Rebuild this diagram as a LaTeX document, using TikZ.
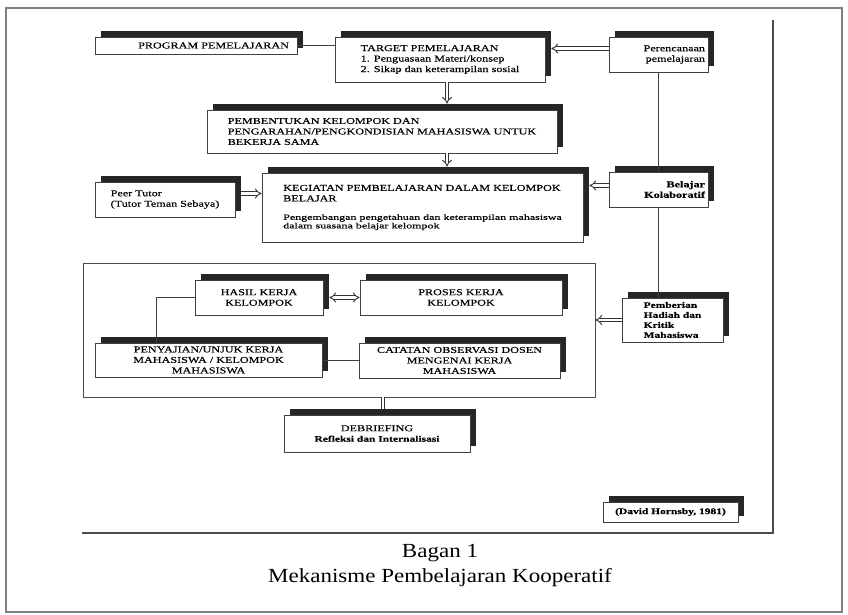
\documentclass[tikz,border=0pt]{standalone}
\usepackage{fontspec}
\setmainfont{Liberation Serif}
\newfontfamily\diafont[FakeStretch=1.35, FakeBold=0.4]{Liberation Serif}
\newfontfamily\diawide[FakeStretch=1.5, FakeBold=0.4]{Liberation Serif}
\newfontfamily\titfont[FakeStretch=1.15]{Liberation Serif}
\newcommand{\miudo}{\diawide\fontsize{8}{8}\selectfont}
\usetikzlibrary{shadows,arrows.meta,calc}

\tikzset{
  caixa/.style={draw=black!75, line width=0.8pt, fill=white, inner sep=2pt,
    font=\diafont\fontsize{9}{10.5}\selectfont,
    drop shadow={shadow xshift=6pt, shadow yshift=6pt, fill=black!85, opacity=1}},
  negrito/.style={font=\diafont\bfseries\fontsize{9}{10.5}\selectfont},
  seta/.style={draw=black!80, line width=0.9pt, double=white, double distance=2.6pt, -{Implies}},
  liga/.style={draw=black!75, line width=0.8pt},
  moldura/.style={draw=black!70, line width=0.9pt},
}

\begin{document}
\begin{tikzpicture}[x=1pt, y=-1pt]
	\useasboundingbox (0,0) rectangle (848,615);
	% Moldura da pagina
	\draw[gray, line width=2pt] (6,8) rectangle (842,612);
	\draw[black!70, line width=1.2pt] (773,20) -- (773,533) -- (82,533);
	
	% Grupo de trabalho
	\node (kelompok) [moldura, minimum width=512pt, minimum height=134pt] at (339,330) {};
	
	% Caixas
	\node (program) [caixa, minimum width=202pt, minimum height=17pt, text width=186pt, inner xsep=8pt, align=right] at (196,45.5) {PROGRAM PEMELAJARAN};
	\node (target) [caixa, minimum width=210pt, minimum height=45pt, align=left] at (440,59.5)
		{TARGET PEMELAJARAN\\1. Penguasaan Materi/konsep\\2. Sikap dan keterampilan sosial};
	\node (rencana) [caixa, minimum width=99pt, minimum height=35pt, text width=93pt, inner xsep=3pt, align=right] at (658.5,54.5) {Perencanaan\\pemelajaran};
	\node (bentuk) [caixa, minimum width=350pt, minimum height=43pt, align=left] at (382,131.5)
		{PEMBENTUKAN KELOMPOK DAN\\PENGARAHAN/PENGKONDISIAN MAHASISWA UNTUK\\BEKERJA SAMA};
	\node (kolab) [caixa, negrito, minimum width=99pt, minimum height=35pt, text width=93pt, inner xsep=3pt, align=right] at (658.5,189.5) {Belajar\\Kolaboratif};
	\node (tutor) [caixa, minimum width=140pt, minimum height=35pt, align=left] at (165,199.5) {Peer Tutor\\(Tutor Teman Sebaya)};
	\node (kegiatan) [caixa, minimum width=321pt, minimum height=69pt, align=left] at (422.5,207.5)
		{KEGIATAN PEMBELAJARAN DALAM KELOMPOK\\BELAJAR\\[8pt]{\miudo Pengembangan pengetahuan dan keterampilan mahasiswa}\\[-2pt]{\miudo dalam suasana belajar kelompok}};
	\node (hasil) [caixa, minimum width=128pt, minimum height=35pt, align=center] at (259,297.5) {HASIL KERJA\\KELOMPOK};
	\node (proses) [caixa, minimum width=202pt, minimum height=35pt, align=center] at (461,297.5) {PROSES KERJA\\KELOMPOK};
	\node (sajian) [caixa, minimum width=227pt, minimum height=34pt, align=center] at (208.5,360)
		{PENYAJIAN/UNJUK KERJA\\MAHASISWA / KELOMPOK\\MAHASISWA};
	\node (catatan) [caixa, minimum width=201pt, minimum height=35pt, align=center] at (459.5,360.5)
		{CATATAN OBSERVASI DOSEN\\MENGENAI KERJA\\MAHASISWA};
	\node (hadiah) [caixa, font=\diafont\bfseries\fontsize{8.5}{10}\selectfont, minimum width=101pt, minimum height=44pt, align=left] at (672.5,320)
		{Pemberian\\Hadiah dan\\Kritik\\Mahasiswa};
	\node (debrief) [caixa, minimum width=186pt, minimum height=37pt, align=center] at (377,433.5)
		{DEBRIEFING\\{\bfseries\fontsize{8.5}{10}\selectfont Refleksi dan Internalisasi}};
	\node (sumber) [caixa, font=\diafont\bfseries\fontsize{8.5}{10}\selectfont, minimum width=135pt, minimum height=20pt] at (670.5,512) {(David Hornsby, 1981)};
	
	% Ligacoes
	\draw[liga] (program.east) -- (program.east -| target.west);
	\draw[seta] ($(rencana.west)+(0,-6)$) -- ($(rencana.west -| target.east)+(6,-6)$);
	\draw[seta] ($(target.south)+(7,0)$) -- ($(target.south |- bentuk.north)+(7,-6)$);
	\draw[seta] ($(bentuk.south -| target.south)+(7,0)$) -- ($(kegiatan.north -| target.south)+(7,-6)$);
	\draw[liga] (rencana.south) -- (kolab.north);
	\draw[liga] (kolab.south) -- (kolab.south |- hadiah.north);
	\draw[seta] ($(kolab.west)+(0,-4)$) -- ($(kolab.west -| kegiatan.east)+(6,-4)$);
	\draw[seta] ($(tutor.east)+(6,-6)$) -- ($(tutor.east -| kegiatan.west)+(0,-6)$);
	\draw[seta, {Implies}-{Implies}] ($(hasil.east)+(6,0)$) -- (hasil.east -| proses.west);
	\draw[liga] (hasil.west) -| ($(sajian.north west)+(62,0)$);
	\draw[liga] (sajian.east) -- (sajian.east -| catatan.west);
	\draw[seta] (hadiah.west) -- (hadiah.west -| kelompok.east);
	\draw[seta, -] ($(kelompok.south -| debrief.north)+(6,0)$) -- ($(debrief.north)+(6,-6)$);
	
	% Legenda
	\node (judul) [font=\titfont\fontsize{20}{25}\selectfont, align=center] at (440,566) {Bagan 1\\Mekanisme Pembelajaran Kooperatif};
\end{tikzpicture}
\end{document}
